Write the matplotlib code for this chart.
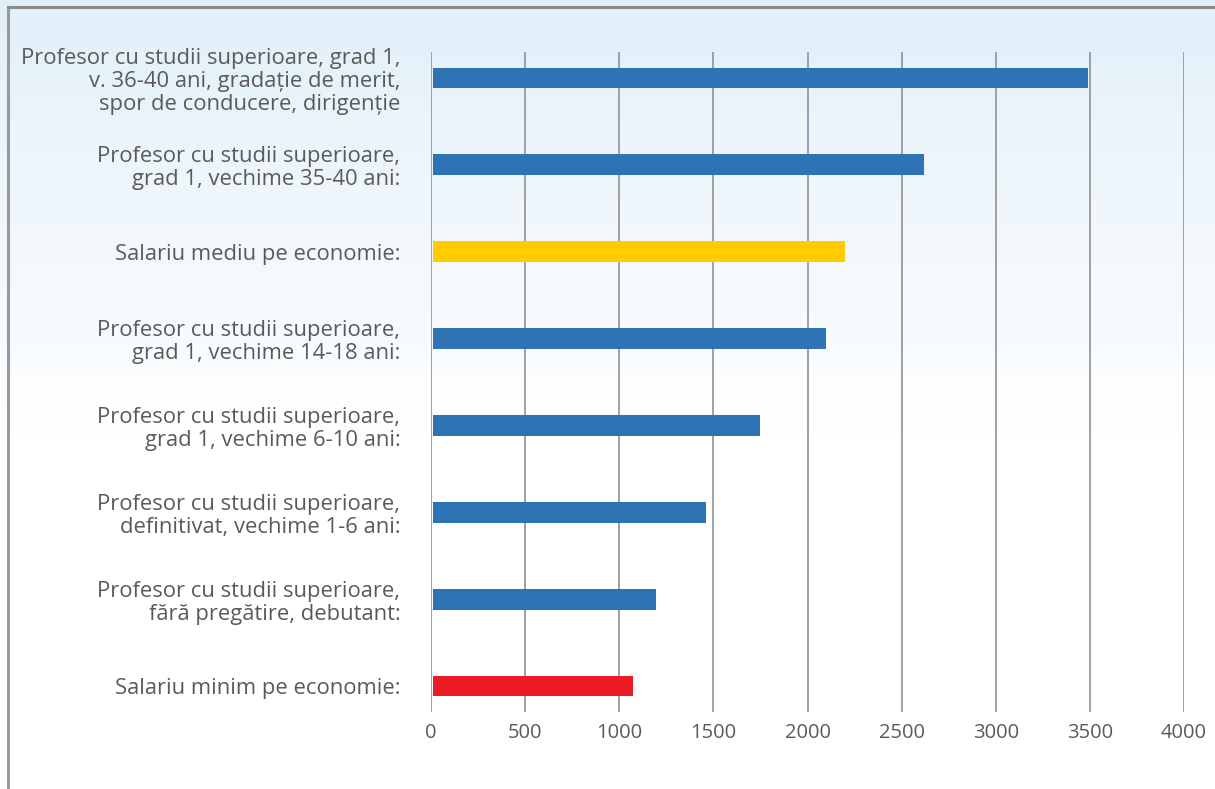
import numpy as np
import matplotlib
matplotlib.use('Agg')
import matplotlib.pyplot as plt
from matplotlib.lines import Line2D

# data, top to bottom
labels = [
    'Profesor cu studii superioare, grad 1,\nv. 36-40 ani, gradație de merit,\nspor de conducere, dirigenție',
    'Profesor cu studii superioare,\ngrad 1, vechime 35-40 ani:',
    'Salariu mediu pe economie:',
    'Profesor cu studii superioare,\ngrad 1, vechime 14-18 ani:',
    'Profesor cu studii superioare,\ngrad 1, vechime 6-10 ani:',
    'Profesor cu studii superioare,\ndefinitivat, vechime 1-6 ani:',
    'Profesor cu studii superioare,\nfără pregătire, debutant:',
    'Salariu minim pe economie:',
]
values = [3490, 2620, 2200, 2100, 1750, 1460, 1195, 1075]
colors = ['#2e74b5', '#2e74b5', '#ffcc00', '#2e74b5', '#2e74b5', '#2e74b5', '#2e74b5', '#ed1c24']
xticks = [0, 500, 1000, 1500, 2000, 2500, 3000, 3500, 4000]

plt.rcParams['font.family'] = ['Open Sans', 'DejaVu Sans']
txt_color = '#5a5a5a'

fig = plt.figure(figsize=(12.15, 7.89), dpi=100)

# background gradient: light blue at top fading to white
bg = fig.add_axes([0, 0, 1, 1], zorder=-10)
grad = np.linspace(0, 1, 256).reshape(-1, 1)
top = np.array([0.886, 0.941, 0.980])
white = np.array([1.0, 1.0, 1.0])
t = np.clip((grad - 0.45) / 0.55, 0, 1)
img = white + (top - white) * t
img = np.repeat(img[:, None, :], 2, axis=1).reshape(256, 2, 3)
bg.imshow(img, origin='lower', aspect='auto', extent=[0, 1, 0, 1])
bg.set_xlim(0, 1)
bg.set_ylim(0, 1)
bg.axis('off')

# frame lines at top and left
fig.add_artist(Line2D([8/1215, 8/1215], [0, 1 - 7/789], transform=fig.transFigure, color='#999999', lw=2.2))
fig.add_artist(Line2D([8/1215, 1], [1 - 7/789, 1 - 7/789], transform=fig.transFigure, color='#8c8c8c', lw=2.2))

ax = fig.add_axes([431/1215, 1 - 712/789, (1184 - 431)/1215, (712 - 52)/789])
ax.patch.set_alpha(0)
y = np.arange(len(values))
gap = 10  # bars start just right of the zero line
ax.barh(y, np.array(values) - gap, height=0.24, color=colors, left=gap, zorder=3)
ax.set_xlim(0, 4000)
ax.set_ylim(len(values) - 1 + 0.3, -0.3)
ax.set_xticks(xticks)
ax.set_xticklabels([str(v) for v in xticks])
ax.set_yticks(y)
ax.set_yticklabels(labels, ha='right', multialignment='right', linespacing=1.12)
for s in ax.spines.values():
    s.set_visible(False)
for xv in xticks:
    ax.axvline(xv, color='#999999', lw=1.3, zorder=1)
ax.tick_params(axis='both', length=0, labelcolor=txt_color)
ax.tick_params(axis='y', labelsize=15.8, pad=32 - 10)
ax.tick_params(axis='x', labelsize=14.5, pad=8)

fig.savefig('out.png', dpi=100)
